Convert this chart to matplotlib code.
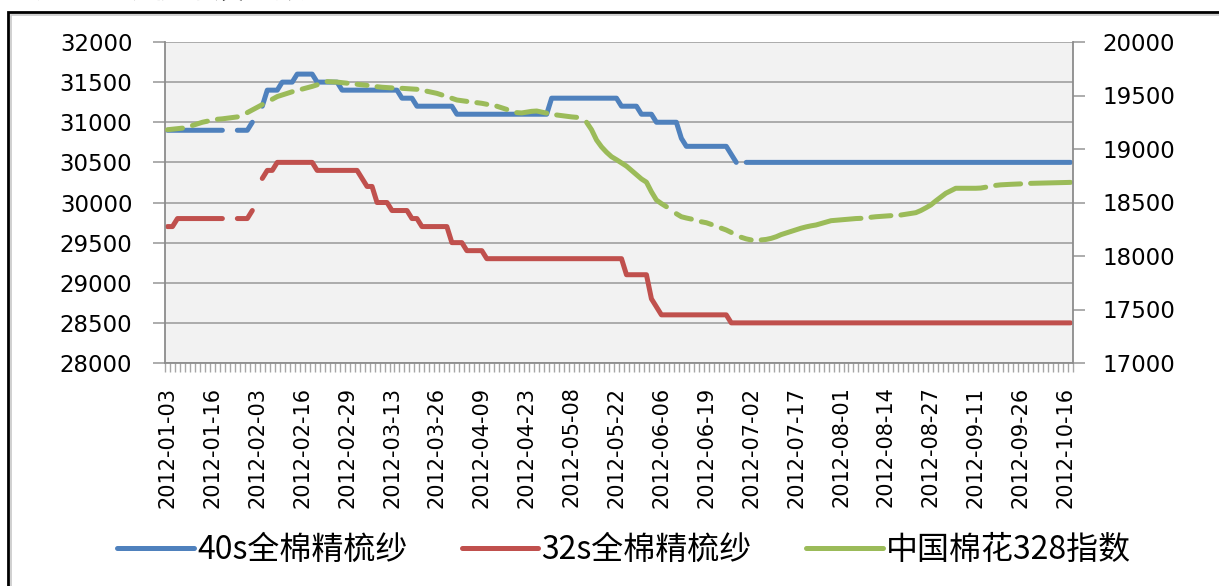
import numpy as np
import matplotlib
matplotlib.use("Agg")
import matplotlib.pyplot as plt
from matplotlib.patches import Rectangle

# category axis: one slot per trading day, label on every 9th day
n_days = 182
tick_labels = ['2012-01-03', '2012-01-16', '2012-02-03', '2012-02-16', '2012-02-29',
               '2012-03-13', '2012-03-26', '2012-04-09', '2012-04-23', '2012-05-08',
               '2012-05-22', '2012-06-06', '2012-06-19', '2012-07-02', '2012-07-17',
               '2012-08-01', '2012-08-14', '2012-08-27', '2012-09-11', '2012-09-26',
               '2012-10-16']

# step series stored as (price, number of days); None = no quote that day
yarn40_runs = [(30900, 12), (None, 2), (30900, 3), (31000, 1), (None, 1), (31200, 1),
               (31400, 3), (31500, 3), (31600, 4), (31500, 5), (31400, 12), (31300, 3),
               (31200, 8), (31100, 19), (31300, 14), (31200, 4), (31100, 3), (31000, 5),
               (30800, 1), (30700, 9), (30600, 1), (30500, 1), (None, 1),
               (30500, 66)]
yarn32_runs = [(29700, 2), (29800, 10), (None, 2), (29800, 3), (29900, 1), (None, 1),
               (30300, 1), (30400, 2), (30500, 8), (30400, 9), (30300, 1), (30200, 2),
               (30000, 3), (29900, 4), (29800, 2), (29700, 6), (29500, 3), (29400, 4),
               (29300, 28), (29100, 5), (28800, 1), (28700, 1), (28600, 14), (28500, 69)]

# China cotton 328 index, one reading per day
cotton328 = [19180, 19185, 19190, 19195, 19205, 19220, 19235, 19250, 19260, 19270,
             19278, 19282, 19288, 19294, 19300, 19320, 19340, 19365, 19390, 19415,
             19440, 19465, 19490, 19505, 19520, 19535, 19548, 19560, 19572, 19585,
             19600, 19615, 19630, 19628, 19625, 19620, 19615, 19610, 19605, 19600,
             19595, 19588, 19582, 19577, 19574, 19571, 19569, 19567, 19564, 19561,
             19558, 19549, 19540, 19530, 19520, 19505, 19490, 19474, 19458, 19452,
             19445, 19439, 19433, 19427, 19418, 19409, 19400, 19385, 19370, 19355,
             19340, 19337, 19345, 19352, 19355, 19345, 19335, 19325, 19318, 19312,
             19306, 19300, 19296, 19280, 19250, 19180, 19084, 19020, 18970, 18928,
             18900, 18870, 18840, 18800, 18760, 18720, 18690, 18600, 18523, 18490,
             18461, 18430, 18395, 18367, 18355, 18345, 18335, 18320, 18311, 18295,
             18280, 18260, 18243, 18220, 18195, 18175, 18160, 18150, 18150, 18150,
             18155, 18165, 18180, 18200, 18215, 18230, 18245, 18260, 18272, 18282,
             18290, 18303, 18316, 18330, 18334, 18338, 18342, 18346, 18350, 18352,
             18357, 18362, 18367, 18370, 18374, 18377, 18380, 18383, 18390, 18398,
             18405, 18425, 18450, 18477, 18515, 18550, 18586, 18610, 18633, 18633,
             18633, 18633, 18633, 18635, 18643, 18652, 18660, 18665, 18668, 18670,
             18672, 18674, 18676, 18679, 18680, 18681, 18682, 18683, 18684, 18685,
             18686, 18688]
cotton328_missing = [4, 9, 15, 20, 26, 31, 37, 41, 46, 51, 56, 61, 65, 69, 77, 83,
                     101, 106, 110, 114, 118, 140, 146, 165, 172]


def expand(runs):
    out = []
    for v, k in runs:
        out += [np.nan if v is None else v] * k
    return np.array(out, dtype=float)


yarn40 = expand(yarn40_runs)
yarn32 = expand(yarn32_runs)
cotton = np.array(cotton328, dtype=float)
cotton[cotton328_missing] = np.nan
x = np.arange(n_days)

W, H = 1219, 586
fig = plt.figure(figsize=(W / 100, H / 100), dpi=100)
ax = fig.add_axes([165 / W, 1 - 363 / H, (1073 - 165) / W, (363 - 42) / H])
ax2 = ax.twinx()

ax.set_facecolor('#F2F2F2')
grey = '#A6A6A6'
lw = 3.6
kw = dict(lw=lw, solid_capstyle='round', solid_joinstyle='round')
l1, = ax.plot(x, yarn40, color='#4F81BD', label='40s全棉精梳纱', **kw)
l2, = ax.plot(x, yarn32, color='#C0504D', label='32s全棉精梳纱', **kw)
l3, = ax2.plot(x, cotton, color='#9BBB59', label='中国棉花328指数', **kw)

ax.set_xlim(-0.5, n_days - 0.5)
ax.set_ylim(28000, 32000)
ax2.set_ylim(17000, 20000)
ax.set_yticks(np.arange(28000, 32001, 500))
ax2.set_yticks(np.arange(17000, 20001, 500))
ax.grid(axis='y', color=grey, lw=1.3)
ax.set_axisbelow(True)

ax.set_xticks(np.arange(0, n_days, 9)[:len(tick_labels)])
ax.set_xticklabels(tick_labels, rotation=90, fontsize=15)
ax.set_xticks(np.arange(-0.5, n_days, 1), minor=True)
ax.tick_params(axis='x', which='major', length=0, pad=17)
ax.tick_params(axis='x', which='minor', length=6.5, width=1, color=grey)
ax.tick_params(axis='y', length=8.5, width=1.3, color=grey, labelsize=16.5, pad=15)
ax2.tick_params(axis='y', length=8.5, width=1.3, color=grey, labelsize=16.5, pad=13)

for a in (ax, ax2):
    for s in a.spines.values():
        s.set_color('#8C8C8C')
        s.set_linewidth(1.3)
    a.spines['top'].set_visible(False)
ax.spines['right'].set_visible(False)
ax2.spines['left'].set_visible(False)
ax2.spines['bottom'].set_visible(False)

cjk = ['Noto Sans CJK SC', 'DejaVu Sans']
fig.legend(handles=[l1, l2, l3], loc='center', bbox_to_anchor=(0.512, 1 - 550 / H),
           ncol=3, frameon=False, prop={'family': cjk, 'size': 23},
           handlelength=2.4, handletextpad=0.1, columnspacing=1.7)

# clipped caption above the frame and the frame itself
fig.text(0.0, 1 - 4 / H, '图表：棉纱价格及指数', family=cjk, fontsize=22, va='bottom')
fig.patches.append(Rectangle((8 / W, -0.1), 1.2, 1.1 - 12 / H, transform=fig.transFigure,
                             fill=False, ec='black', lw=2))
fig.patches.append(Rectangle((11 / W, -0.1), 1.2, 1.1 - 15 / H, transform=fig.transFigure,
                             fill=False, ec='#C8C8C8', lw=1.2))

fig.savefig('out.png', dpi=100)
